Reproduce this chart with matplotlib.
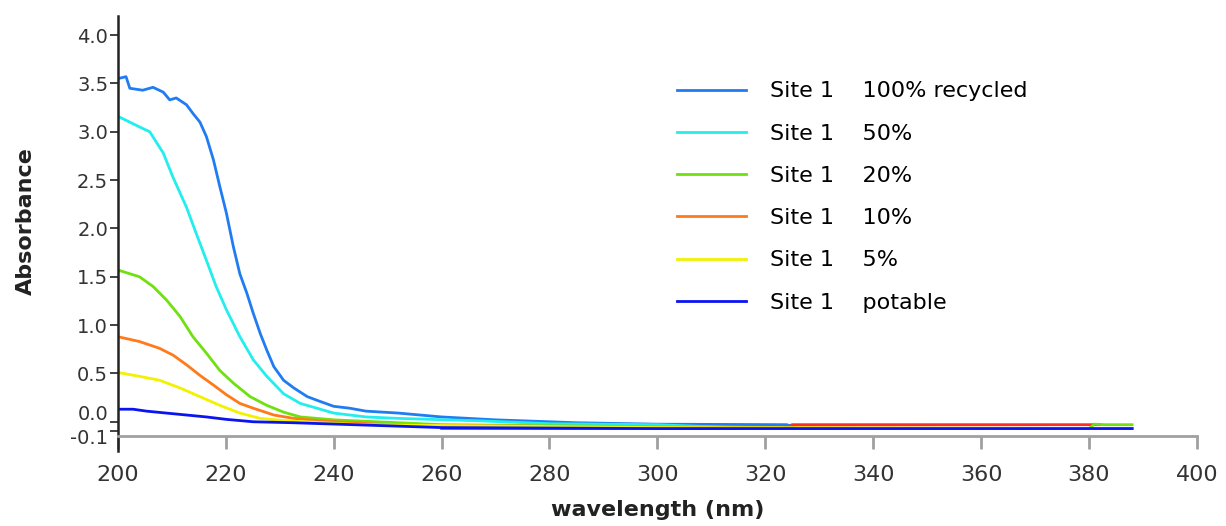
import matplotlib.pyplot as plt
from matplotlib.transforms import ScaledTranslation

# wavelength (nm) / absorbance key points
wl_100 = [200, 201.5, 202.2, 204.6, 206.5, 208.4, 209.6, 210.8, 212.7, 213.9, 215.2, 216.4,
          217.7, 218.9, 220.1, 221.4, 222.6, 223.9, 225.1, 226.4, 227.6, 228.9, 230.7, 232.6,
          235.1, 237.5, 240, 243, 246, 252, 260, 270, 285, 300, 324, 326, 388]
abs_100 = [3.55, 3.57, 3.45, 3.43, 3.46, 3.41, 3.33, 3.35, 3.28, 3.19, 3.10, 2.95,
           2.71, 2.43, 2.16, 1.81, 1.53, 1.33, 1.12, 0.91, 0.74, 0.57, 0.43, 0.35,
           0.26, 0.21, 0.16, 0.14, 0.11, 0.09, 0.05, 0.02, -0.01, -0.025, -0.03, -0.07, -0.07]

wl_50 = [200, 204, 205.9, 208.4, 210.2, 212.7, 214.5, 216.4, 218.2, 220.1, 222.6, 225.1,
         227.6, 230.7, 233.8, 240, 246, 252, 267, 280, 300, 318, 388]
abs_50 = [3.16, 3.05, 3.00, 2.78, 2.53, 2.22, 1.95, 1.67, 1.40, 1.16, 0.88, 0.64,
          0.47, 0.29, 0.19, 0.09, 0.05, 0.035, 0.01, -0.02, -0.03, -0.07, -0.07]

wl_20 = [200, 204, 206.5, 209, 211.5, 213.9, 216.4, 218.9, 221.4, 224.5, 227.6, 230.7,
         233.8, 240, 260, 300, 340, 380, 381, 383, 388]
abs_20 = [1.57, 1.50, 1.40, 1.26, 1.09, 0.88, 0.71, 0.53, 0.40, 0.26, 0.17, 0.10,
          0.05, 0.02, -0.03, -0.05, -0.07, -0.07, -0.025, -0.03, -0.03]

wl_10 = [200, 204, 207.7, 210.2, 212.7, 215.2, 217.7, 220.1, 222.6, 225.1, 228.9, 232.6,
         237.5, 250, 300, 388]
abs_10 = [0.88, 0.83, 0.76, 0.69, 0.59, 0.48, 0.38, 0.28, 0.19, 0.14, 0.07, 0.035,
          0.01, -0.03, -0.06, -0.07]

wl_5 = [200, 204, 207.7, 211.5, 215.2, 218.9, 222.6, 226.4, 231.2, 245, 300, 388]
abs_5 = [0.51, 0.47, 0.43, 0.35, 0.26, 0.17, 0.09, 0.035, 0.01, -0.03, -0.06, -0.07]

wl_pot = [200, 202.8, 205.3, 209, 212.7, 216.4, 220.1, 225.1, 232.6, 260, 300, 388]
abs_pot = [0.13, 0.13, 0.11, 0.09, 0.07, 0.05, 0.025, 0.0, -0.01, -0.06, -0.07, -0.07]

# extra trace that only shows through in the 325-382 nm region
wl_red = [260, 300, 323, 325, 382]
abs_red = [-0.07, -0.07, -0.07, -0.03, -0.03]

labels = ['Site 1    100% recycled', 'Site 1    50%', 'Site 1    20%',
          'Site 1    10%', 'Site 1    5%', 'Site 1    potable']
colors = ['#1f7cf2', '#22eeee', '#6fe010', '#ff7a1a', '#f2f200', '#0a14f0']
series = [(wl_100, abs_100), (wl_50, abs_50), (wl_20, abs_20),
          (wl_10, abs_10), (wl_5, abs_5), (wl_pot, abs_pot)]

fig = plt.figure(figsize=(12.26, 5.26), dpi=100)
ax = fig.add_axes([0.0962, 0.143, 0.88, 0.827])

ax.plot(wl_red, abs_red, color='#ff2a2a', lw=2, zorder=1)
for (x, y), c, lab in zip(series, colors, labels):
    ax.plot(x, y, color=c, lw=2, label=lab, zorder=2)

ax.set_xlim(200, 400)
ax.set_ylim(-0.3, 4.2)
ax.set_xticks(range(200, 401, 20))
ax.set_yticks([-0.1, 0.0, 0.5, 1.0, 1.5, 2.0, 2.5, 3.0, 3.5, 4.0])
ax.set_yticklabels(['-0.1', '0.0', '0.5', '1.0', '1.5', '2.0', '2.5', '3.0', '3.5', '4.0'])

for s in ['top', 'right']:
    ax.spines[s].set_visible(False)
ax.spines['bottom'].set_position(('data', -0.15))
ax.spines['bottom'].set_color('#a0a0a0')
ax.spines['bottom'].set_linewidth(2)
ax.spines['left'].set_color('#222222')
ax.spines['left'].set_linewidth(1.8)

ax.tick_params(axis='x', colors='#a0a0a0', length=9, width=2, labelsize=16,
               labelcolor='#333333', pad=12)
ax.tick_params(axis='y', colors='#222222', length=6, width=1.2, labelsize=14,
               labelcolor='#333333', pad=1)

# the 0.0 and -0.1 labels are nudged apart as in the original
ticks = ax.yaxis.get_major_ticks()
ticks[0].label1.set_transform(ticks[0].label1.get_transform()
                              + ScaledTranslation(0, -5 / 100, fig.dpi_scale_trans))
ticks[1].label1.set_transform(ticks[1].label1.get_transform()
                              + ScaledTranslation(0, 9 / 100, fig.dpi_scale_trans))

ax.set_ylabel('Absorbance', fontsize=16, fontweight='bold', color='#222222')
ax.yaxis.set_label_coords(-0.076, 0.527)
ax.set_xlabel('wavelength (nm)', fontsize=16, fontweight='bold', color='#222222')
ax.xaxis.set_label_coords(0.5, -0.113)

leg = ax.legend(loc='upper left', bbox_to_anchor=(0.5, 0.895), frameon=False, fontsize=16,
                handlelength=3.1, handletextpad=1.05, labelspacing=1.0)
for line in leg.get_lines():
    line.set_linewidth(2)

fig.savefig('out.png', dpi=100)
